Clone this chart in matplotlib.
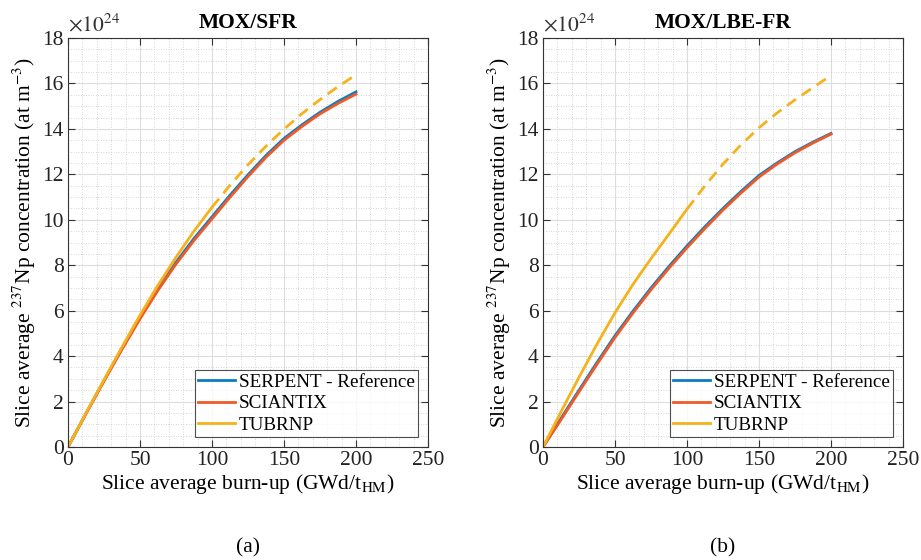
import matplotlib
matplotlib.use("Agg")
import matplotlib.pyplot as plt
from matplotlib.ticker import MultipleLocator

plt.rcParams["font.family"] = ["Liberation Serif", "DejaVu Serif"]
plt.rcParams["mathtext.fontset"] = "stix"

# burn-up (GWd/tHM) sample points
burnup = [0, 12.5, 25, 37.5, 50, 62.5, 75, 87.5, 100,
          112.5, 125, 137.5, 150, 162.5, 175, 187.5, 200]
burnup_solid = [0, 12.5, 25, 37.5, 50, 62.5, 75, 87.5, 100]
burnup_dash = [100, 112.5, 125, 137.5, 150, 162.5, 175, 187.5, 200]

# MOX/SFR, concentration in 1e24 at/m3
sfr_serpent = [0, 1.48, 2.93, 4.34, 5.69, 6.96, 8.13, 9.18, 10.13,
               11.08, 11.98, 12.83, 13.58, 14.18, 14.73, 15.21, 15.63]
sfr_sciantix = [0, 1.46, 2.9, 4.3, 5.64, 6.9, 8.05, 9.09, 10.04,
                10.99, 11.9, 12.75, 13.5, 14.11, 14.66, 15.12, 15.53]
sfr_tubrnp_solid = [0, 1.49, 2.96, 4.4, 5.8, 7.12, 8.35, 9.5, 10.55]
sfr_tubrnp_dash = [10.55, 11.52, 12.42, 13.24, 13.99, 14.67, 15.29, 15.86, 16.38]

# MOX/LBE-FR
lbe_serpent = [0, 1.26, 2.5, 3.72, 4.9, 5.98, 7.0, 7.95, 8.85,
               9.7, 10.5, 11.25, 11.95, 12.5, 13.0, 13.42, 13.8]
lbe_sciantix = [0, 1.2, 2.43, 3.64, 4.82, 5.9, 6.92, 7.87, 8.77,
                9.62, 10.43, 11.18, 11.88, 12.45, 12.95, 13.38, 13.77]
lbe_tubrnp_solid = [0, 1.55, 3.07, 4.53, 5.91, 7.16, 8.29, 9.37, 10.47]
lbe_tubrnp_dash = [10.47, 11.5, 12.45, 13.3, 14.05, 14.7, 15.28, 15.82, 16.35]

BLUE = "#0A7CC4"
ORANGE = "#F05A28"
YELLOW = "#F5B21C"
FS = 15.5

fig = plt.figure(figsize=(9.21, 5.6), dpi=100)
ax1 = fig.add_axes([68 / 921, 1 - 447 / 560, 360 / 921, 409 / 560])
ax2 = fig.add_axes([543 / 921, 1 - 447 / 560, 360 / 921, 409 / 560])

panels = [
    (ax1, "MOX/SFR", sfr_serpent, sfr_sciantix, sfr_tubrnp_solid, sfr_tubrnp_dash, "(a)"),
    (ax2, "MOX/LBE-FR", lbe_serpent, lbe_sciantix, lbe_tubrnp_solid, lbe_tubrnp_dash, "(b)"),
]

for ax, title, serp, scia, tub_s, tub_d, tag in panels:
    ax.plot(burnup, serp, color=BLUE, linewidth=2, label="SERPENT - Reference")
    ax.plot(burnup, scia, color=ORANGE, linewidth=2, label="SCIANTIX")
    ax.plot(burnup_solid, tub_s, color=YELLOW, linewidth=2, label="TUBRNP")
    ax.plot(burnup_dash, tub_d, color=YELLOW, linewidth=2, linestyle=(0, (4, 2.5)))

    ax.set_xlim(0, 250)
    ax.set_ylim(0, 18)
    ax.xaxis.set_major_locator(MultipleLocator(50))
    ax.xaxis.set_minor_locator(MultipleLocator(10))
    ax.yaxis.set_major_locator(MultipleLocator(2))
    ax.yaxis.set_minor_locator(MultipleLocator(0.5))
    ax.grid(which="major", color="#dddddd", linewidth=0.8)
    ax.grid(which="minor", color="#c8c8c8", linewidth=0.6, linestyle=(0, (1, 2)))
    ax.set_axisbelow(True)
    ax.tick_params(which="both", direction="in", top=True, right=True,
                   labelsize=FS, colors="#333333", labelcolor="#222222")
    ax.tick_params(which="major", length=5, pad=3)
    ax.tick_params(which="minor", length=0)
    for sp in ax.spines.values():
        sp.set_color("#333333")
        sp.set_linewidth(0.8)

    ax.set_title(title, fontsize=FS, fontweight="bold", pad=7)
    ax.text(0.0, 1.005, r"$\times 10^{24}$", transform=ax.transAxes,
            fontsize=FS, ha="left", va="bottom", color="#333333")
    ax.set_xlabel(r"Slice average burn-up (GWd/t$_{\mathrm{HM}}$)", fontsize=FS, labelpad=1)
    ax.set_ylabel(r"Slice average $^{237}$Np concentration (at m$^{-3}$)", fontsize=FS, labelpad=3)

    leg = ax.legend(loc="lower right", fontsize=13.8, frameon=True, fancybox=False,
                    edgecolor="#222222", borderpad=0.2, labelspacing=0.2,
                    handlelength=1.9, handletextpad=0.2, borderaxespad=0.5)
    leg.get_frame().set_linewidth(0.8)

    ax.text(0.5, -0.247, tag, transform=ax.transAxes, fontsize=FS,
            ha="center", va="center")

fig.savefig("out.png", dpi=100)
